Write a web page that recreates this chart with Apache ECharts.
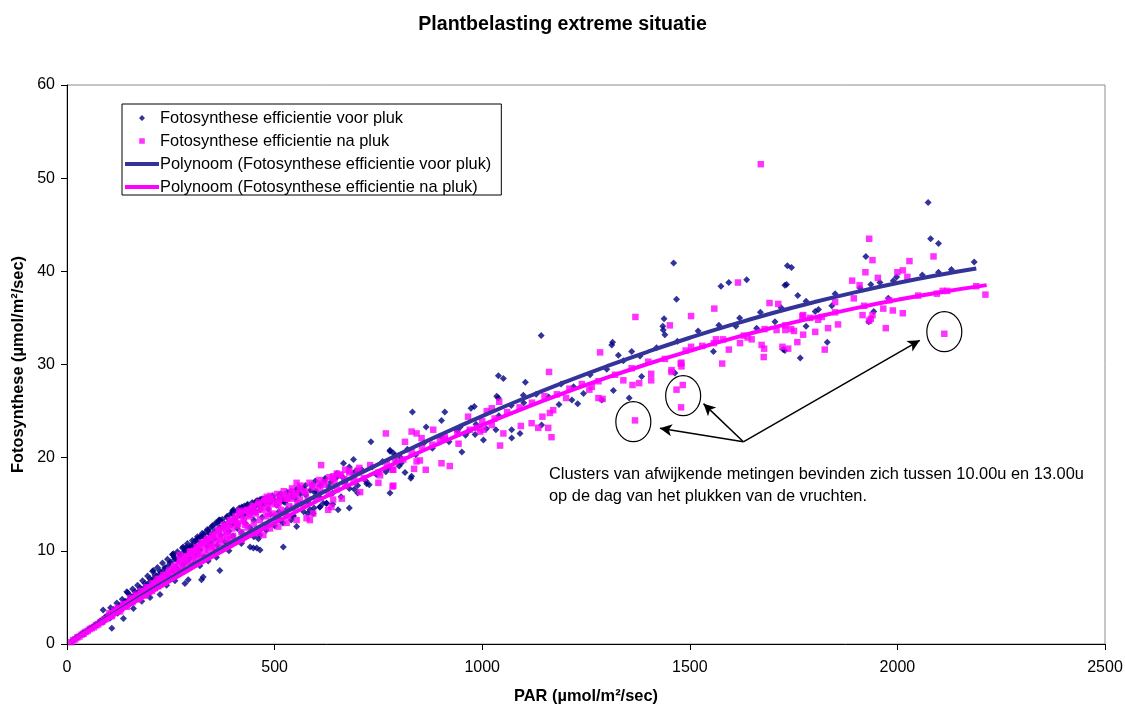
<!DOCTYPE html>
<html>
<head>
<meta charset="utf-8">
<script src="https://cdn.jsdelivr.net/npm/echarts@6/dist/echarts.min.js"></script>
<style>
html,body{margin:0;padding:0;background:#fff;}
#chart{width:1125px;height:704px;}
</style>
</head>
<body>
<div id="chart"></div>
<script>
// ---- Data ----
var xTicks = [0, 500, 1000, 1500, 2000, 2500];
var yTicks = [0, 10, 20, 30, 40, 50, 60];

var voorPluk = [
[12,0.3],[18,0.5],[22,0.7],[28,0.8],[33,1.0],[38,1.2],[42,1.1],[47,1.4],[52,1.5],[55,1.7],[60,1.8],[64,1.9],[68,2.1],[72,2.0],[76,2.3],[80,2.5],[85,2.6],[88,2.4],[92,2.9],[96,3.0],[100,3.1],[104,2.8],[108,3.4],[112,3.5],[118,3.7],[122,3.3],[126,4.0],[130,4.1],[134,3.8],[138,4.4],[142,4.5],[146,4.2],[150,4.8],[155,4.9],[160,4.6],[164,5.3],[168,5.1],[172,5.6],[176,5.4],[180,5.9],[185,5.3],[190,6.2],[194,5.8],[198,6.6],[203,6.1],[208,7.0],[212,6.4],[216,7.3],[220,6.8],[225,7.6],[230,6.9],[234,8.0],[238,7.4],[242,8.3],[247,7.2],[250,8.8],[255,7.9],[258,9.3],[262,8.2],[266,9.0],[270,7.8],[275,9.6],[280,8.5],[284,10.0],[288,8.9],[292,10.3],[296,9.2],[300,10.6],[305,8.6],[308,11.0],[312,9.6],[316,11.3],[320,10.1],[325,11.6],[330,9.4],[334,12.0],[338,10.5],[342,12.3],[346,10.9],[350,12.7],[355,11.3],[358,13.0],[362,10.6],[366,13.3],[370,11.7],[375,12.5],[380,11.0],[385,13.6],[390,12.1],[395,14.0],[400,11.6],[405,13.2],[410,12.4],[415,14.6],[420,12.0],[425,13.8],[430,12.9],[435,15.0],[440,12.5],[445,14.2],[450,13.3],[455,15.3],[460,11.9],[465,14.8],[470,13.6],[475,15.6],[480,12.8],[485,14.5],[490,13.9],[495,15.9],[500,12.7],[505,14.9],[510,14.2],[515,16.1],[520,13.0],[525,15.2],[530,14.5],[540,16.4],[545,13.8],[550,15.6],[555,14.9],[560,16.8],[570,14.2],[575,16.0],[580,15.3],[590,17.1],[595,14.6],[600,16.4],[610,15.7],[620,17.5],[625,15.1],[630,16.9],[640,16.2],[650,17.9],[660,15.8],[670,17.4],[680,16.7],[690,18.3],[700,17.0],[710,18.7],[720,17.5],[735,19.0],[745,18.2],[760,19.6],[775,18.9],[790,20.2],[805,19.4],[820,20.9],[840,20.3],[860,21.6],[880,21.0],[900,22.3],[920,21.7],[940,22.9],[960,22.4],[985,23.6],[1010,23.1],[1040,24.5],[1070,25.6],[1100,25.9],[1130,26.8],[1160,26.5],[1190,27.9],[1220,27.6],[1260,28.9],[1300,29.5],[1340,30.4],[1380,30.9],[1420,31.8],[1470,32.5],[1520,33.6],[1570,34.2],[1620,35.0],[1670,35.6],[1720,36.1],[1780,36.8],[1850,37.6],[1910,38.2],[1990,39.0],[2060,39.6],[2130,40.2],
[105,3.9],[112,3.7],[120,4.4],[126,4.1],[133,4.8],[140,4.6],[146,5.5],[152,5.2],[158,5.9],[164,5.6],[170,6.3],[176,6.0],[182,6.8],[188,6.5],[194,7.3],[200,7.0],[206,7.8],[212,7.4],[218,8.2],[224,7.8],[230,8.7],[236,8.2],[242,9.1],[248,8.7],[254,9.6],[260,9.1],[266,9.9],[272,9.5],[278,10.3],[284,9.9],[290,10.8],[296,10.3],[302,11.1],[308,10.6],[314,11.5],[320,11.0],[326,11.9],[332,11.4],[338,12.3],[344,11.8],[350,12.6],[356,12.1],[362,13.0],[368,12.5],[374,13.4],[380,12.9],[386,13.7],[392,13.2],[398,14.0],[404,13.5],[410,14.3],[416,13.8],[422,14.6],[428,14.1],[434,14.9],[440,14.4],[446,15.2],[452,14.7],[458,15.4],[464,14.9],[470,15.6],[476,15.1],[482,15.7],[488,15.2],[494,15.8],[502,15.4],[510,16.0],[520,15.5],[530,16.3],[540,15.8],[552,16.6],[562,16.1],[574,17.0],[586,16.5],[598,17.5],[610,17.0],[622,17.8],[636,17.4],[650,18.3],[664,17.9],[680,19.0],[696,18.6],
[160,3.8],[180,4.6],[200,5.0],[240,6.3],[260,6.8],[320,8.4],[340,8.9],[360,9.3],[390,10.0],[420,10.8],[450,11.5],[480,12.2],[540,13.3],[580,14.0],[640,15.0],[700,16.2],
[2074,47.4],[2080,43.5],[2099,43.0],[1924,41.6],[2185,41.0],[1461,40.9],[1735,40.6],[1745,40.4],[2099,39.9],[1998,39.4],[1958,38.8],[1936,38.6],[1637,39.1],[1594,38.8],[1575,38.4],[1729,38.5],[1733,38.6],[1468,37.0],[1760,37.4],[1978,37.1],[1842,36.3],[1802,35.7],[1943,35.7],[1438,34.9],[1931,34.6],[1780,34.1],[1831,32.4],[1766,30.7],[1557,31.4],[1435,34.1],[1436,33.7],[1440,33.2],[1611,34.1],[1705,34.6],[1810,35.9],[1661,33.9],[1725,31.6],[1729,31.5],
[1314,32.4],[1312,32.1],[1328,31.0],[1360,31.4],[1384,28.7],[1316,27.2],[1354,26.4],[1288,26.2],[1464,29.1],
[1142,33.1],[1039,28.8],[1051,28.5],[1104,28.1],[1039,26.4],[973,25.3],[981,25.5],[910,24.9],[832,24.9],[902,24.0],[865,23.3],[951,20.6],[814,18.4],[830,18.0],[1003,21.9],[1033,23.0],[1071,22.1],[1091,22.6],[1143,23.5],[1185,25.7],[1216,26.2],[1230,25.8],[1244,26.9],[778,20.7],[768,18.5],[794,19.6],[802,20.1],[947,23.3],[966,22.8],[983,22.5],[1071,23.0],[1099,26.7],[1035,26.6],
[732,21.7],[690,19.8],[666,19.4],[569,16.7],[553,16.4],[596,16.3],[778,20.8],[786,20.5],[800,19.1],[828,17.8],[778,16.2],[722,17.2],[728,17.1],[692,16.6],[680,14.6],[653,14.4],[609,14.7],[617,15.1],[593,14.0],[553,12.6],[469,15.5],[473,15.1],[513,15.7],[521,15.3],[399,14.3],[427,14.8],[453,14.2],[465,14.4],[368,13.2],[380,12.6],[397,12.8],[465,11.7],[461,11.3],[521,10.4],[328,11.7],[344,11.9],[336,11.2],[312,11.2],[300,10.4],[280,10.4],[256,9.55],[441,10.4],[449,10.3],
[108,1.7],[136,2.75],[224,5.3],[284,6.5],[292,6.9],[324,6.9],[328,7.2],[368,7.9],[457,10.3],[465,10.1],[87,3.65],[144,5.6],[208,7.9],[256,9.7],[288,10.4],[320,11.5],[368,13.3],[401,14.4],[465,15.5],[513,15.8],[401,14.2],[421,14.7],[433,14.4],[513,13.3],[545,13.7],[585,14.4],[609,14.7],[625,15.1]
];

var naPluk = [
[10,0.2],[15,0.4],[20,0.5],[25,0.7],[30,0.8],[35,1.0],[40,1.1],[45,1.3],[50,1.4],[55,1.6],[60,1.7],[65,1.8],[70,2.0],[75,2.1],[80,2.3],[85,2.4],[90,2.6],[95,2.7],[100,2.9],[105,3.0],[110,3.2],[115,3.4],[120,3.5],[125,3.7],[130,3.8],[135,4.0],[140,4.1],[145,4.3],[150,4.4],[155,4.6],[160,4.8],[165,4.9],[170,5.1],[175,5.0],[180,5.4],[185,5.6],[190,5.3],[195,5.9],[200,6.1],[205,5.7],[210,6.4],[215,6.6],[220,6.2],[225,6.9],[230,7.1],[235,6.6],[240,7.4],[245,7.7],[250,7.1],[255,8.0],[260,8.3],[265,7.6],[270,8.6],[275,8.9],[280,8.0],[285,9.1],[290,9.4],[295,8.5],[300,9.7],[305,10.0],[310,9.0],[315,10.2],[320,10.5],[325,9.4],[330,10.8],[335,11.1],[340,9.9],[345,11.3],[350,11.6],[355,10.4],[360,11.8],[365,12.1],[370,10.8],[375,12.3],[380,12.6],[385,11.2],[390,12.8],[395,13.2],[400,11.6],[405,13.4],[410,12.7],[415,13.9],[420,12.0],[425,13.2],[430,14.3],[435,12.5],[440,13.7],[445,14.6],[450,12.9],[455,14.0],[460,15.0],[465,13.3],[470,14.4],[475,15.3],[480,13.7],[485,14.7],[490,15.6],[495,14.0],[500,15.0],[505,13.6],[510,15.3],[515,14.4],[520,16.0],[525,14.1],[530,15.6],[535,14.8],[540,16.3],[545,14.6],[550,15.9],[555,15.1],[560,16.6],[570,15.0],[575,16.2],[580,15.5],[590,17.0],[600,15.6],[610,16.6],[620,17.4],[630,16.1],[640,17.8],[650,16.6],[660,18.1],[670,17.0],[680,18.4],[690,17.4],[700,18.6],[715,17.8],[730,19.2],[750,18.4],[770,19.3],[790,19.9],[810,19.8],[830,20.6],[855,21.2],[880,21.4],[910,22.0],[940,22.6],[970,23.0],[1000,23.9],[1030,24.2],[1060,24.9],[1090,25.4],[1120,25.9],[1150,26.6],[1180,26.8],[1210,27.4],[1240,27.9],[1280,28.2],[1320,28.9],[1360,29.6],[1400,30.3],[1440,30.6],[1490,31.5],[1530,32.0],[1580,32.7],[1630,33.1],[1680,33.8],[1730,34.2],[1790,35.0],[1850,35.6],[1920,36.3],[1980,36.9],[2050,37.4],[2120,37.9],[2190,38.4],
[102,3.3],[108,3.0],[114,3.6],[122,3.9],[128,3.5],[136,4.3],[144,4.0],[152,4.9],[158,4.5],[166,5.3],[172,4.8],[178,5.7],[186,5.2],[192,6.1],[198,5.6],[206,6.5],[212,6.0],[218,7.0],[226,6.4],[232,7.4],[238,6.9],[246,7.9],[252,7.3],[258,8.4],[264,7.8],[272,8.9],[278,8.3],[284,9.4],[292,8.8],[298,9.9],[304,9.2],[312,10.4],[318,9.7],[324,10.9],[332,10.1],[338,11.3],[344,10.6],[352,11.7],[358,11.0],[364,12.3],[372,11.5],[378,12.8],[384,12.0],[392,13.3],[398,12.4],[406,13.7],[412,12.9],[420,14.1],[426,13.4],[434,14.4],[440,13.9],[448,14.8],[454,14.2],[462,15.2],[468,14.6],[476,15.5],[482,15.0],[490,15.9],[498,15.3],[506,16.1],[514,15.6],[522,16.4],[532,15.9],[542,16.7],[552,16.2],[562,17.0],[572,16.4],[584,17.3],[596,16.8],[608,17.6],[620,17.1],[632,17.9],[644,17.4],[656,18.2],[668,17.7],[680,18.6],[692,18.0],[704,18.9],
[1671,51.5],[1932,43.5],[1940,41.2],[2029,41.1],[2087,41.6],[2013,40.1],[2000,39.9],[1923,39.9],[2024,39.4],[1953,39.3],[1891,39.0],[1909,38.5],[1616,38.8],[2109,37.9],[2095,37.6],[2212,37.5],[1895,37.1],[1692,36.6],[1713,36.5],[1559,36.0],[1850,36.7],[1966,36.0],[1989,35.8],[2013,35.5],[1916,35.3],[1369,35.1],[1503,35.2],[1773,35.3],
[1940,35.3],[1936,34.9],[1932,34.7],[1972,33.9],[2113,33.3],[1857,34.3],[1833,33.9],[1802,33.5],[1773,33.2],[1825,31.6],[1759,32.4],[1751,33.6],[1744,33.8],[1730,33.7],[1737,31.7],[1723,31.9],[1709,33.7],[1673,32.1],[1679,31.7],[1678,30.8],[1649,32.7],[1639,32.9],[1621,32.3],[1594,31.6],[1578,30.1],[1563,32.7],[1558,32.3],[1452,34.2],[1503,31.9],[1478,30.1],[1480,29.8],[1456,29.4],[1771,35.2],[1818,35.1],[1809,34.8],
[1284,31.3],[1340,28.3],[1362,27.8],[1378,28.0],[1407,29.0],[1407,28.3],[1290,26.3],[1368,24.0],[1468,27.3],[1483,27.8],[1479,25.4],[1456,29.2],[1480,30.2],
[1161,29.2],[1041,26.0],[768,22.6],[830,22.8],[842,22.6],[854,22.1],[882,23.0],[943,21.5],[902,19.4],[922,19.1],[814,21.7],[842,19.6],[850,19.7],[864,18.7],[786,18.7],[966,24.4],[1011,25.0],[1023,25.3],[1051,22.6],[1023,23.5],[995,22.8],[1003,23.0],[1043,21.3],[1093,23.4],[1119,23.7],[1135,23.2],[1145,24.4],[1159,23.2],[1167,22.2],[1163,24.8],[1171,25.1],[1202,26.4],[1258,27.3],[1280,26.4],[1264,27.6],[898,21.9],[910,22.2],[987,23.2],
[612,19.2],[553,17.3],[608,17.2],[650,18.3],[670,18.7],[641,18.0],[836,18.8],[784,18.7],[784,16.9],[786,17.0],[706,16.3],[750,17.3],[754,18.1],[662,15.6],[641,15.5],[629,14.4],[637,14.7],[553,13.3],[533,13.7],[585,13.3],[561,15.5],[541,15.6],[481,15.8],[489,15.5],[509,15.0],[529,15.6],[415,14.3],[439,14.2],[485,14.0],[505,13.8],[385,12.6],[409,13.0],[429,12.8],[489,12.4],[509,12.6],[529,13.0],[577,13.5],[593,14.0],[457,11.9],[473,11.7],[385,11.7],[393,11.2],[421,11.2],[328,10.8],[348,10.4],[368,11.2],[356,9.9],[272,9.55],[296,9.9],[312,9.55]
];

// trend lines
var voorTrend = [[10,0.3],[100,2.90],[200,5.71],[300,8.41],[400,11.01],[500,13.50],[600,15.90],[700,18.19],[800,20.38],[900,22.47],[1000,24.46],[1100,26.35],[1200,28.13],[1300,29.81],[1400,31.39],[1500,32.87],[1600,34.25],[1700,35.53],[1800,36.70],[1900,37.77],[2000,38.74],[2100,39.61],[2190,40.30]];
var naTrend = [[10,0.28],[100,2.80],[200,5.50],[300,8.10],[400,10.60],[500,13.00],[600,15.30],[700,17.50],[800,19.60],[900,21.59],[1000,23.49],[1100,25.29],[1200,26.98],[1300,28.58],[1400,30.08],[1500,31.47],[1600,32.77],[1700,33.96],[1800,35.05],[1900,36.05],[2000,36.94],[2100,37.73],[2215,38.52]];

// annotation (data coordinates)
var clusterCenters = [[1364,23.86],[1484,26.65],[2113,33.52]];
var arrowStart = [1629,21.7];
var arrowEnds = [[1428,23.15],[1533,25.8],[2054,32.6]];
var noteLines = ['Clusters van afwijkende metingen bevinden zich tussen 10.00u en 13.00u', 'op de dag van het plukken van de vruchten.'];

var names = ['Fotosynthese efficientie voor pluk','Fotosynthese efficientie na pluk','Polynoom (Fotosynthese efficientie voor pluk)','Polynoom (Fotosynthese efficientie na pluk)'];

var FONT = 'Liberation Sans, Arial, Helvetica, sans-serif';
var chart = echarts.init(document.getElementById('chart'), null, {renderer:'canvas'});

// legend icons: small marker centred in a 34px wide slot, or a 34px line
var iconDiamond = 'path://M0 4L0 4Z M34 4L34 4Z M17 1L20 4L17 7L14 4Z';
var iconSquare = 'path://M0 4L0 4Z M34 4L34 4Z M14.2 1.2H19.8V6.8H14.2Z';
var iconLine = 'path://M0 2H34V6H0Z';

var option = {
  animation: false,
  backgroundColor: '#ffffff',
  textStyle: {fontFamily: FONT, color: '#000'},
  title: {
    text: 'Plantbelasting extreme situatie',
    left: 'center', top: 10,
    textStyle: {fontFamily: FONT, fontSize: 19.6, fontWeight: 'bold', color: '#000'}
  },
  grid: {left: 67, right: 20, top: 85, bottom: 60, containLabel: false, outerBoundsMode: 'none',
         show: true, borderColor: '#8c8c8c', borderWidth: 1, backgroundColor: '#fff'},
  legend: {
    orient: 'vertical', left: 122, top: 104,
    padding: [6, 10, 0, 3],
    itemGap: 7, itemWidth: 34, itemHeight: 8,
    backgroundColor: '#fff', borderColor: '#000', borderWidth: 1,
    textStyle: {fontFamily: FONT, fontSize: 16.4, color: '#000', padding: [0,0,0,-4]},
    selectedMode: false,
    data: [
      {name: names[0], icon: iconDiamond},
      {name: names[1], icon: iconSquare},
      {name: names[2], icon: iconLine},
      {name: names[3], icon: iconLine}
    ]
  },
  xAxis: {
    type: 'value', min: 0, max: 2500, interval: 500,
    name: 'PAR (µmol/m²/sec)', nameLocation: 'middle', nameGap: 44,
    nameTextStyle: {fontFamily: FONT, fontSize: 16.4, fontWeight: 'bold', color: '#000'},
    axisLine: {show: true, onZero: false, lineStyle: {color: '#000', width: 1}},
    axisTick: {show: true, inside: false, length: 6, lineStyle: {color: '#000'}},
    axisLabel: {fontFamily: FONT, fontSize: 16, color: '#000', margin: 16,
      formatter: function(v){ return xTicks.indexOf(v) >= 0 ? String(v) : ''; }},
    splitLine: {show: false}
  },
  yAxis: {
    type: 'value', min: 0, max: 60, interval: 10,
    name: 'Fotosynthese (µmol/m²/sec)', nameLocation: 'middle', nameGap: 40, nameRotate: 90,
    nameTextStyle: {fontFamily: FONT, fontSize: 16.4, fontWeight: 'bold', color: '#000'},
    axisLine: {show: true, onZero: false, lineStyle: {color: '#000', width: 1}},
    axisTick: {show: true, inside: false, length: 6, lineStyle: {color: '#000'}},
    axisLabel: {fontFamily: FONT, fontSize: 16, color: '#000', margin: 12,
      formatter: function(v){ return yTicks.indexOf(v) >= 0 ? String(v) : ''; }},
    splitLine: {show: false}
  },
  series: [
    {name: names[0], type: 'scatter', data: voorPluk, symbol: 'diamond', symbolSize: 7,
     itemStyle: {color: '#000080'}, z: 2},
    {name: names[1], type: 'scatter', data: naPluk, symbol: 'rect', symbolSize: 6.5,
     itemStyle: {color: '#ff00ff'}, z: 3},
    {name: names[2], type: 'line', data: voorTrend, smooth: true, symbol: 'none', showSymbol: false,
     lineStyle: {color: '#333399', width: 4}, itemStyle: {color: '#333399'}, z: 4},
    {name: names[3], type: 'line', data: naTrend, smooth: true, symbol: 'none', showSymbol: false,
     lineStyle: {color: '#ff00ff', width: 4}, itemStyle: {color: '#ff00ff'}, z: 5,
     markLine: {
       silent: true, animation: false,
       symbol: ['none', 'arrow'], symbolSize: [9, 12],
       label: {show: false},
       lineStyle: {color: '#000', width: 1.5, type: 'solid'},
       emphasis: {disabled: true},
       data: arrowEnds.map(function(e){ return [{coord: arrowStart}, {coord: e}]; })
     }}
  ]
};
chart.setOption(option);

// ellipses around the clusters + note text
var gfx = clusterCenters.map(function(c){
  var p = chart.convertToPixel({gridIndex: 0}, c);
  return {type: 'ellipse', shape: {cx: p[0], cy: p[1], rx: 17.5, ry: 20},
          style: {fill: 'none', stroke: '#000', lineWidth: 1.2}, z: 100, silent: true};
});
gfx.push({type: 'text', left: 549, top: 463, z: 100, silent: true,
  style: {text: noteLines.join('\n'), font: '16.4px ' + FONT, fill: '#000', lineHeight: 22}});
chart.setOption({graphic: gfx});
</script>
</body>
</html>
